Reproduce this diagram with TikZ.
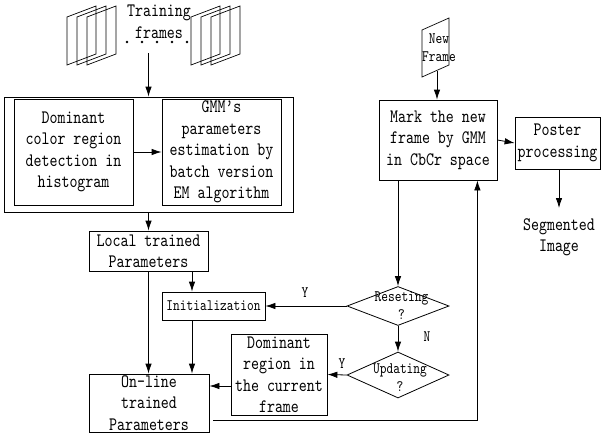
\documentclass[tikz,border=0pt]{standalone}
\usepackage{fontspec}
\usetikzlibrary{arrows.meta,shapes.geometric}
\newfontfamily\diafont{lmmono10-regular.otf}[FakeStretch=0.8]
\newcommand{\bigtxt}{\diafont\fontsize{19}{21.5}\selectfont}
\newcommand{\smalltxt}{\diafont\fontsize{16}{18}\selectfont}
\begin{document}
\begin{tikzpicture}[x=1pt,y=-1pt,
  line width=0.8pt,
  arr/.style={-{Latex[length=10pt,width=6.5pt]}},
  boxnode/.style={draw, align=center, inner sep=0pt, font=\bigtxt},
  txtnode/.style={align=center, inner sep=0pt, font=\bigtxt},
  smallnode/.style={align=center, inner sep=0pt, font=\smalltxt},
  diam/.style={draw, diamond, inner sep=0pt},
  framepoly/.style={line width=0.7pt}
]
\useasboundingbox (0,0) rectangle (603,437);

% training frames (left stack)
\foreach \dx in {0,10,20}{
  \draw[framepoly] (67+\dx,17) -- (96+\dx,6) -- (96+\dx,54) -- (67+\dx,65) -- cycle;
}
% training frames (right stack)
\foreach \dx in {0,10,20}{
  \draw[framepoly] (191+\dx,17) -- (220+\dx,6) -- (220+\dx,54) -- (191+\dx,65) -- cycle;
}
\node[txtnode] (train) at (159,21.5) {Training\\frames};
\foreach \xx in {127,142,157,172,187}{
  \fill (\xx,42) circle (1.4);
}
\coordinate (trainout) at (148.5,53);

% outer box and inner boxes
\node[boxnode, minimum width=289, minimum height=115] (outer) at (148.5,154.5) {};
\node[boxnode, minimum width=119, minimum height=106] (dcr) at (73.5,152)
  {Dominant\\color region\\detection in\\histogram};
\node[boxnode, minimum width=119, minimum height=106] (gmm) at (221.5,152)
  {GMM’s\\parameters\\estimation by\\batch version\\EM algorithm};

\node[boxnode, minimum width=119, minimum height=40] (local) at (148.5,251)
  {Local trained\\Parameters};
\node[boxnode, font=\smalltxt, minimum width=103, minimum height=28] (init) at (213.5,306)
  {Initialization};
\node[boxnode, minimum width=96, minimum height=81] (dom) at (279,374.5)
  {Dominant\\region in\\the current\\frame};
\node[boxnode, minimum width=120, minimum height=58] (online) at (149,403)
  {On-line\\trained\\Parameters};

\node[boxnode, minimum width=118, minimum height=80] (mark) at (438,140)
  {Mark the new\\frame by GMM\\in CbCr space};
\node[boxnode, minimum width=85, minimum height=52] (poster) at (557.5,143)
  {Poster\\processing};
\node[txtnode] (seg) at (559,237.5) {Segmented\\Image};

% new frame
\draw[framepoly] (422,30) -- (449,18) -- (449,65) -- (422,77) -- cycle;
\node[smallnode] (newf) at (439,47.5) {New\\Frame};
\coordinate (nfb) at (437,71);

% diamonds
\node[diam, minimum width=102, minimum height=39] (reset) at (398,306) {};
\node[smallnode] (resettxt) at (401.5,305.5) {Reseting\\?};
\node[diam, minimum width=102, minimum height=46] (upd) at (398,375) {};
\node[smallnode] (updtxt) at (400,377.5) {Updating\\?};

% labels
\node[smallnode] (y1) at (305,293) {Y};
\node[smallnode] (n1) at (427,337) {N};
\node[smallnode] (y2) at (342,364) {Y};

% connectors
\draw[arr] (trainout) -- (outer.north);
\draw[arr] (dcr.east) -- (gmm.west);
\draw[arr] (outer.south) -- (local.north);
\coordinate (i1) at ([xshift=-21.5pt]init.north);
\coordinate (i2) at ([xshift=-21.5pt]init.south);
\draw[arr] (i1 |- local.south) -- (i1);
\draw[arr] (local.south) -- (local.south |- online.north);
\draw[arr] (i2) -- (i2 |- online.north);
\coordinate (d1) at ([yshift=-11.5pt]dom.west);
\draw[arr] (d1) -- (d1 -| online.east);
\coordinate (fb1) at ([xshift=4pt,yshift=-17pt]online.east);
\coordinate (fb2) at ([xshift=-20pt]mark.south east);
\draw[arr] (fb1) -| (fb2);
\coordinate (m1) at (mark.south -| reset.north);
\draw[arr] (m1) -- (reset.north);
\draw[arr] (reset.west) -- (init.east);
\draw[arr] (reset.south) -- (upd.north);
\draw[arr] (upd.west) -- (dom.east);
\draw[arr] (nfb) -- (nfb |- mark.north);
\draw[arr] (mark.east) -- (poster.west);
\coordinate (s1) at (559,208);
\draw[arr] (poster.south -| s1) -- (s1);
\end{tikzpicture}
\end{document}
